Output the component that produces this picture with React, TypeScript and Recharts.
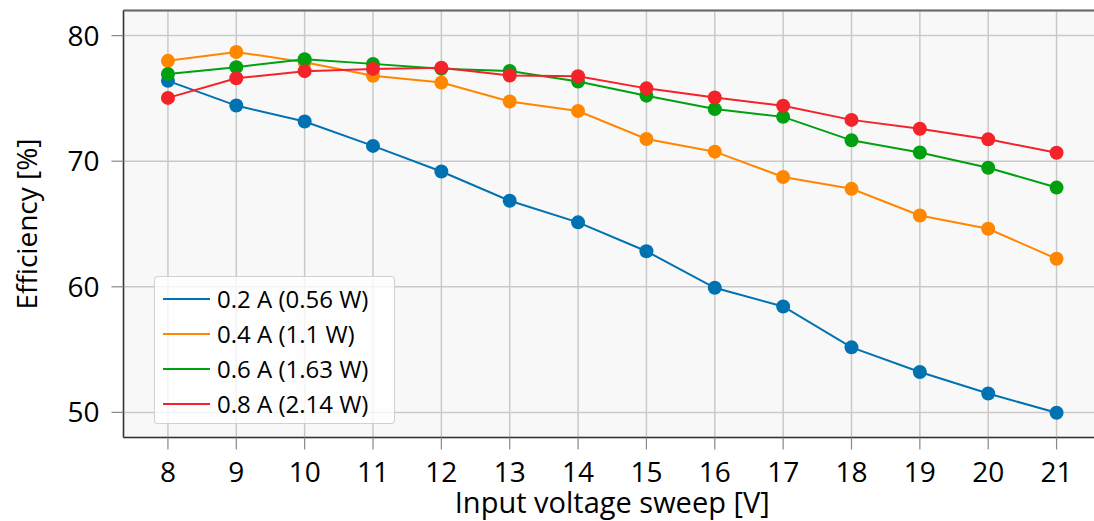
import React from 'react';
import { LineChart, Line, XAxis, YAxis, CartesianGrid, Legend, ReferenceLine, Label } from 'recharts';

const voltages = [8, 9, 10, 11, 12, 13, 14, 15, 16, 17, 18, 19, 20, 21];
const eff02 = [76.4, 74.43, 73.16, 71.22, 69.18, 66.85, 65.13, 62.83, 59.92, 58.43, 55.18, 53.22, 51.5, 49.97];
const eff04 = [77.99, 78.7, 77.88, 76.8, 76.26, 74.75, 74.0, 71.77, 70.76, 68.74, 67.8, 65.68, 64.62, 62.23];
const eff06 = [76.95, 77.49, 78.12, 77.75, 77.37, 77.19, 76.34, 75.22, 74.15, 73.53, 71.66, 70.69, 69.48, 67.9];
const eff08 = [75.04, 76.6, 77.17, 77.35, 77.45, 76.83, 76.76, 75.8, 75.07, 74.41, 73.29, 72.58, 71.74, 70.67];

const seriesNames = ['0.2 A (0.56 W)', '0.4 A (1.1 W)', '0.6 A (1.63 W)', '0.8 A (2.14 W)'];
const seriesColors = ['#0072b2', '#ff8700', '#00a010', '#f42229'];
const seriesValues = [eff02, eff04, eff06, eff08];

const xTicks = [8, 9, 10, 11, 12, 13, 14, 15, 16, 17, 18, 19, 20, 21];
const yTicks = [50, 60, 70, 80];
const xDomain = [7.35, 21.65];
const yDomain = [48, 82];

const xTitle = 'Input voltage sweep [V]';
const yTitle = 'Efficiency [%]';

const data = voltages.map((v, i) => {
  const row: Record<string, number> = { v };
  seriesValues.forEach((s, k) => {
    row['s' + k] = s[i];
  });
  return row;
});

const FONT = '"Open Sans", sans-serif';

const renderLegend = () => (
  <div
    style={{
      background: 'rgba(255,255,255,0.8)',
      border: '1.5px solid rgba(204,204,204,0.9)',
      borderRadius: 4,
      width: 241,
      height: 148,
      boxSizing: 'border-box',
      paddingTop: 4,
      fontFamily: FONT,
    }}
  >
    {seriesNames.map((n, i) => (
      <div key={n} style={{ display: 'flex', alignItems: 'center', height: 35 }}>
        <div style={{ width: 47, height: 2, background: seriesColors[i], marginLeft: 8, marginRight: 7 }} />
        <span style={{ fontSize: 24, color: '#000', lineHeight: '35px', whiteSpace: 'nowrap' }}>{n}</span>
      </div>
    ))}
  </div>
);

const YTitle = (props: any) => {
  const vb = props.viewBox || {};
  const x = vb.x + 26;
  const y = vb.y + vb.height / 2;
  return (
    <text
      x={x}
      y={y}
      transform={`rotate(-90, ${x}, ${y})`}
      textAnchor="middle"
      dominantBaseline="central"
      fontSize={28}
      fontFamily={FONT}
      fill="#000"
    >
      {yTitle}
    </text>
  );
};

const XTitle = (props: any) => {
  const vb = props.viewBox || {};
  const x = vb.x + vb.width / 2;
  const y = vb.y + 75;
  return (
    <text x={x} y={y} textAnchor="middle" fontSize={29} fontFamily={FONT} fill="#000">
      {xTitle}
    </text>
  );
};

export default function App() {
  return (
    <div style={{ position: 'absolute', left: 0, top: 0, width: 1094, height: 521, overflow: 'hidden', background: '#fff' }}>
      <LineChart
        width={1101}
        height={521}
        data={data}
        margin={{ top: 10.5, right: 0, left: 0, bottom: 0 }}
      >
        <CartesianGrid fill="#f8f8f8" stroke="#c9c9c9" strokeWidth={1.5} />
        <XAxis
          type="number"
          dataKey="v"
          domain={xDomain}
          ticks={xTicks}
          interval={0}
          allowDataOverflow
          height={83.5}
          tickSize={12}
          tickMargin={13}
          axisLine={{ stroke: '#333', strokeWidth: 1.5 }}
          tickLine={{ stroke: '#888', strokeWidth: 1.2 }}
          tick={{ fontSize: 28, fill: '#000', fontFamily: FONT }}
        >
          <Label content={<XTitle />} />
        </XAxis>
        <YAxis
          type="number"
          domain={yDomain}
          ticks={yTicks}
          interval={0}
          allowDataOverflow
          width={123.5}
          tickSize={12}
          tickMargin={12}
          axisLine={{ stroke: '#333', strokeWidth: 1.5 }}
          tickLine={{ stroke: '#888', strokeWidth: 1.2 }}
          tick={{ fontSize: 28, fill: '#000', fontFamily: FONT }}
        >
          <Label content={<YTitle />} />
        </YAxis>
        <ReferenceLine y={82} stroke="#666" strokeWidth={2} />
        {seriesNames.map((n, k) => (
          <Line
            key={n}
            type="linear"
            dataKey={'s' + k}
            name={n}
            stroke={seriesColors[k]}
            strokeWidth={2}
            dot={{ r: 7, fill: seriesColors[k], stroke: seriesColors[k], strokeWidth: 0 }}
            activeDot={false}
            isAnimationActive={false}
          />
        ))}
        <Legend
          layout="vertical"
          align="center"
          verticalAlign="middle"
          content={renderLegend}
          wrapperStyle={{ position: 'absolute', left: 154, top: 276, width: 'auto', height: 'auto' }}
        />
      </LineChart>
    </div>
  );
}
